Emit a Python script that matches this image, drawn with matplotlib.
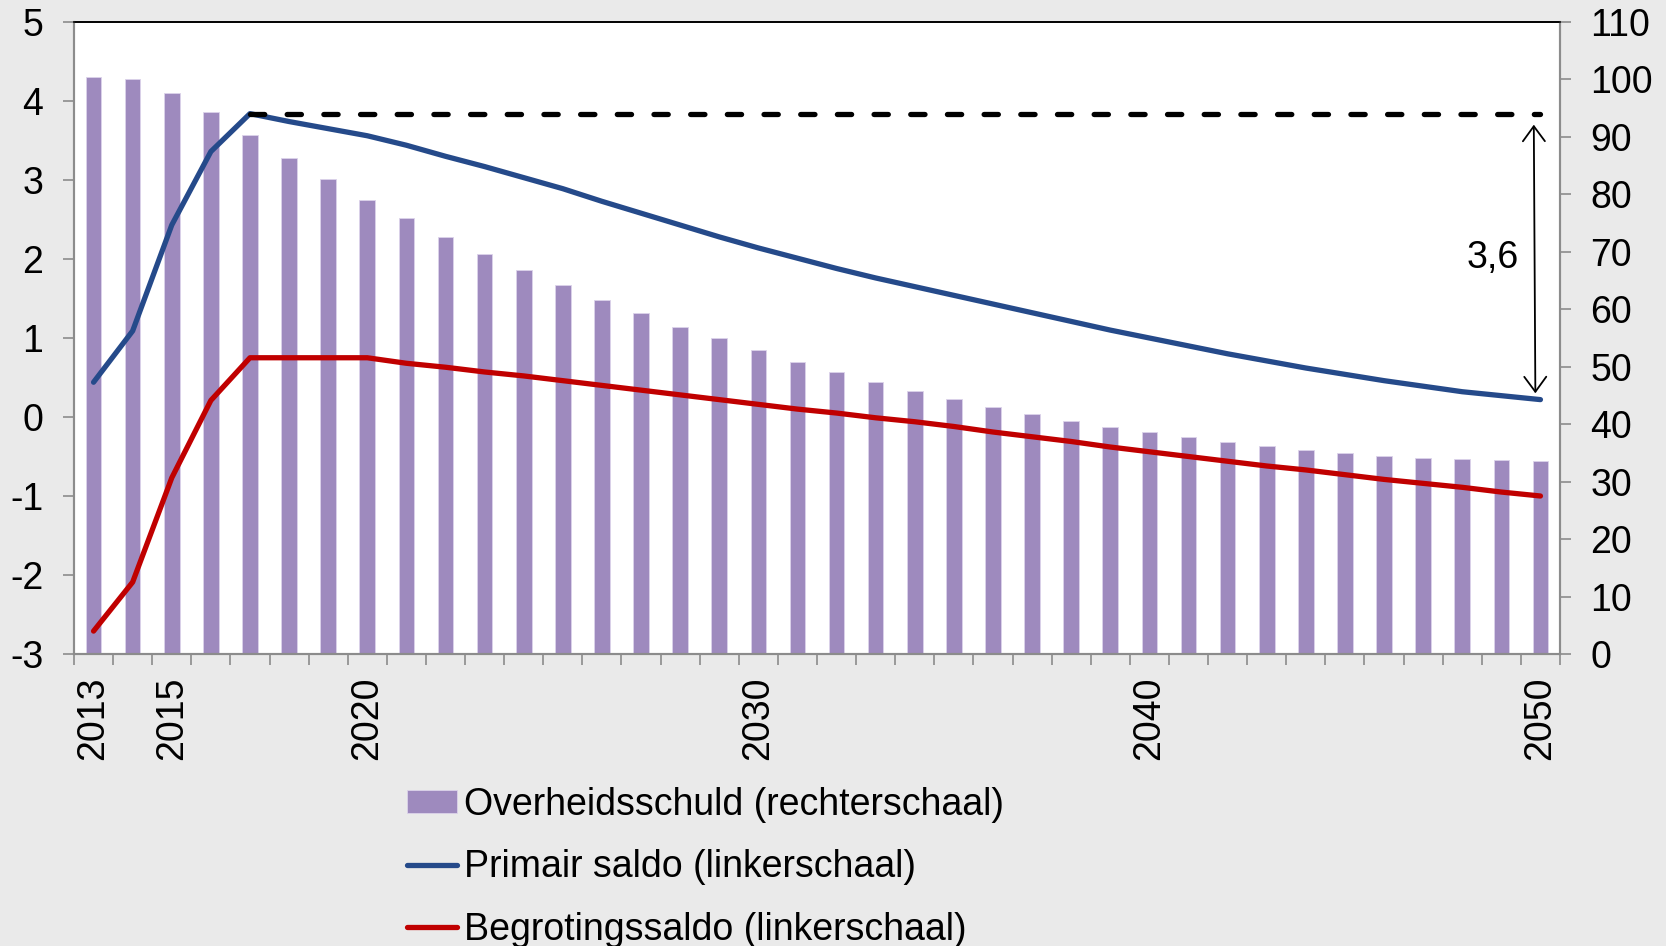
import matplotlib
matplotlib.use('Agg')
import matplotlib.pyplot as plt
from matplotlib.ticker import FixedLocator, MultipleLocator

plt.rcParams['font.family'] = ['Liberation Sans', 'DejaVu Sans']
plt.rcParams['axes.unicode_minus'] = False

# Data
jaren = list(range(2013, 2051))
schuld = [100.5, 100.0, 97.7, 94.3, 90.4, 86.3, 82.6, 79.1, 75.8, 72.6,
          69.6, 66.8, 64.2, 61.7, 59.3, 57.0, 55.0, 52.9, 50.9, 49.0,
          47.3, 45.8, 44.3, 43.0, 41.8, 40.6, 39.5, 38.6, 37.7, 36.9,
          36.2, 35.5, 35.0, 34.5, 34.2, 33.9, 33.7, 33.6]
primair = [0.44, 1.09, 2.43, 3.36, 3.84, 3.74, 3.65, 3.56, 3.44, 3.30,
           3.17, 3.03, 2.89, 2.73, 2.58, 2.43, 2.28, 2.14, 2.01, 1.88,
           1.76, 1.65, 1.54, 1.43, 1.32, 1.21, 1.10, 1.00, 0.90, 0.80,
           0.71, 0.62, 0.54, 0.46, 0.39, 0.32, 0.27, 0.22]
begroting = [-2.71, -2.09, -0.77, 0.21, 0.75, 0.75, 0.75, 0.75, 0.68, 0.63,
             0.57, 0.52, 0.46, 0.40, 0.34, 0.28, 0.22, 0.16, 0.10, 0.05,
             -0.01, -0.06, -0.12, -0.19, -0.25, -0.31, -0.38, -0.44, -0.50, -0.56,
             -0.62, -0.67, -0.73, -0.79, -0.84, -0.89, -0.95, -1.00]
ref_start, ref_eind = 2017, 2050
verschil = '3,6'
xlabels = [2013, 2015, 2020, 2030, 2040, 2050]

labels = ['Overheidsschuld (rechterschaal)',
          'Primair saldo (linkerschaal)',
          'Begrotingssaldo (linkerschaal)']

paars = '#9E8ABE'
blauw = '#254A8A'
rood = '#C00000'
grijs = '#8C8C8C'
achtergrond = '#EAEAEA'
fs = 27

fig = plt.figure(figsize=(16.66, 9.46), dpi=100, facecolor=achtergrond)
ax = fig.add_axes([74 / 1666, 1 - 654 / 946, 1486 / 1666, 632 / 946])
ax2 = ax.twinx()

# bars on the right scale, lines on top
ax.set_zorder(ax2.get_zorder() + 1)
ax.patch.set_visible(False)
ax2.patch.set_visible(True)
ax2.set_facecolor('white')

bars = ax2.bar(jaren, schuld, width=0.4, color=paars, edgecolor='#DCD3EA',
               linewidth=0.6, label=labels[0])
l1, = ax.plot(jaren, primair, color=blauw, lw=3.8, solid_capstyle='round',
              solid_joinstyle='round', label=labels[1])
l2, = ax.plot(jaren, begroting, color=rood, lw=3.8, solid_capstyle='round',
              solid_joinstyle='round', label=labels[2])
ref = primair[jaren.index(ref_start)]
ax.plot([ref_start, ref_eind], [ref, ref], color='black', lw=3.8,
        dashes=(2.7, 4.25), dash_capstyle='round')

# arrow + label
eind = primair[-1]
ax.annotate('', xy=(ref_eind - 0.13, eind + 0.08), xytext=(ref_eind - 0.17, ref - 0.14),
            arrowprops=dict(arrowstyle='<->,head_length=0.3,head_width=0.22',
                            color='black', lw=1.3, mutation_scale=36,
                            shrinkA=0, shrinkB=0))
ax.text(2048.77, 2.01, verschil, fontsize=fs, ha='center', va='center')

ax.set_xlim(2012.5, 2050.5)
ax.set_ylim(-3, 5)
ax2.set_ylim(0, 110)

ax.yaxis.set_major_locator(MultipleLocator(1))
ax2.yaxis.set_major_locator(MultipleLocator(10))
ax.xaxis.set_major_locator(FixedLocator(xlabels))
ax.xaxis.set_minor_locator(FixedLocator([j - 0.5 for j in jaren] + [2050.5]))
ax.set_xticklabels([str(x) for x in xlabels], rotation=90, va='top')

ax.tick_params(axis='y', direction='out', length=8, width=1.2, color=grijs,
               labelsize=fs, pad=14)
ax2.tick_params(axis='y', direction='out', length=8, width=1.2, color=grijs,
                labelsize=fs, pad=14)
ax.tick_params(axis='x', which='major', length=0, labelsize=fs, pad=16)
ax.tick_params(axis='x', which='minor', direction='out', length=8, width=1.2,
               color=grijs)
ax2.tick_params(axis='x', which='both', length=0)

for a in (ax, ax2):
    for s in a.spines.values():
        s.set_color(grijs)
        s.set_linewidth(1.5)
    a.spines['top'].set_color('black')
    a.spines['top'].set_linewidth(1.2)

fig.legend([bars, l1, l2], labels, loc='upper left',
           bbox_to_anchor=(407 / 1666, 1 - 787 / 946), frameon=False,
           fontsize=fs, handlelength=1.33, handleheight=0.55,
           handletextpad=0.19, labelspacing=0.7, borderaxespad=0,
           borderpad=0)

fig.savefig('out.png', dpi=100, facecolor=achtergrond)
